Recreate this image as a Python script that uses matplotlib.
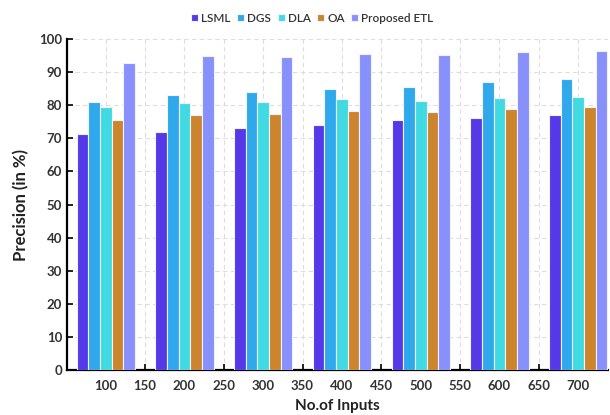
import numpy as np
import matplotlib
matplotlib.use("Agg")
import matplotlib.pyplot as plt

plt.rcParams['font.family'] = ['Lato', 'DejaVu Sans']

inputs = [100, 200, 300, 400, 500, 600, 700]
series_names = ["LSML", "DGS", "DLA", "OA", "Proposed ETL"]
lsml = [71.3, 72.0, 73.0, 74.1, 75.4, 76.1, 77.1]
dgs = [81.1, 83.0, 83.9, 84.8, 85.6, 86.9, 88.0]
dla = [79.6, 80.6, 80.9, 81.8, 81.3, 82.1, 82.5]
oa = [75.5, 77.1, 77.3, 78.2, 78.0, 79.0, 79.6]
etl = [92.8, 94.8, 94.6, 95.5, 95.1, 96.0, 96.5]
colors = ["#5539E6", "#2FA9EB", "#41DAE2", "#CD852D", "#8890FC"]

fig = plt.figure(figsize=(6.1, 4.15), dpi=100)
ax = fig.add_axes([0.11, 0.108, 0.887, 0.798])

width = 14.8
x = np.array(inputs, dtype=float)
for i, (name, vals) in enumerate(zip(series_names, [lsml, dgs, dla, oa, etl])):
    ax.bar(x + (i - 2) * width, vals, width=width, color=colors[i],
           edgecolor="#F2F2FF", linewidth=0.8, label=name, zorder=3)

ax.set_xlim(51, 738)
ax.set_ylim(0, 100)
ax.set_xticks(np.arange(100, 701, 50))
ax.set_yticks(np.arange(0, 101, 10))
ax.grid(True, color="#DDDDDD", linestyle=(0, (4, 3)), linewidth=0.8, zorder=0)
for s in ["top", "right"]:
    ax.spines[s].set_visible(False)
ax.spines["left"].set_linewidth(1.6)
ax.spines["bottom"].set_linewidth(1.6)
ax.tick_params(axis="both", direction="in", length=4, width=1.2,
               labelsize=9.5, labelcolor="#333333")
ax.tick_params(axis="x", pad=7)
for lab in ax.get_xticklabels() + ax.get_yticklabels():
    lab.set_fontweight("bold")

ax.set_ylabel("Precision (in %)", fontsize=12, fontweight="bold", color="#222222", labelpad=7)
ax.set_xlabel("No.of Inputs", fontsize=11, fontweight="bold", color="#222222", labelpad=5)

leg = fig.legend(loc="upper center", bbox_to_anchor=(0.512, 0.995), ncol=5, frameon=False,
                 fontsize=8.5, handlelength=0.6, handleheight=0.6, handletextpad=0.25,
                 columnspacing=0.55)
for t in leg.get_texts():
    t.set_color("#333333")
    t.set_fontweight("semibold")

fig.savefig("out.png", dpi=100)
